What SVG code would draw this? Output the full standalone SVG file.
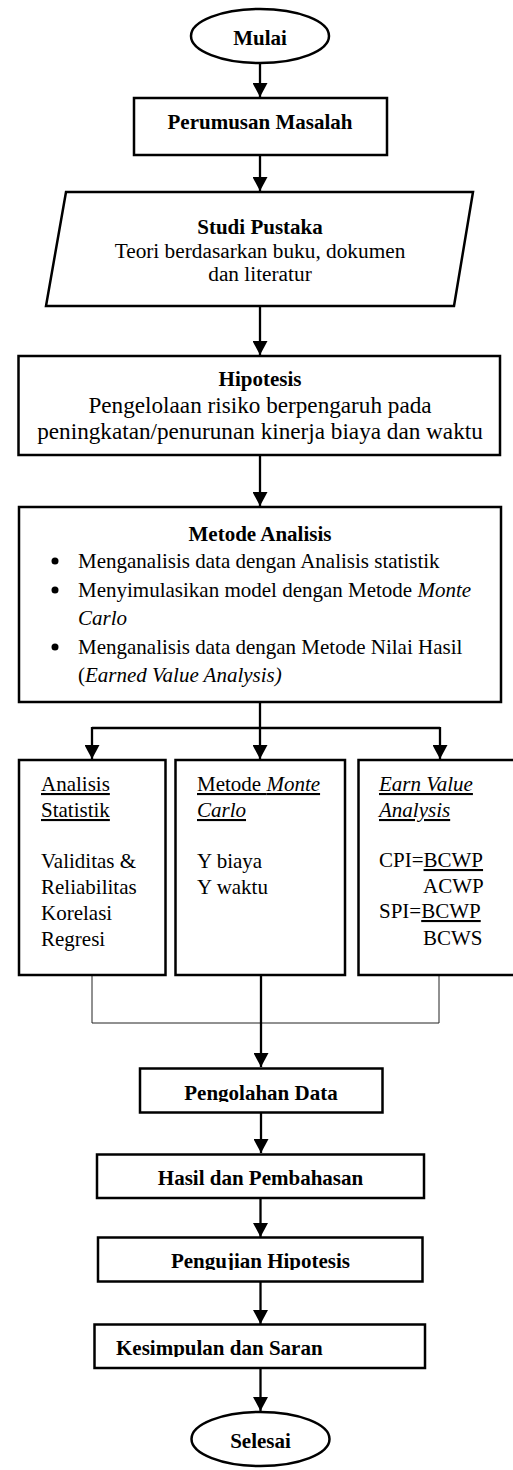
<svg xmlns="http://www.w3.org/2000/svg" width="513" height="1470" viewBox="0 0 513 1470">
<style>
text{font-family:"Liberation Serif","Times New Roman",serif;font-size:21px;fill:#000}
.b{font-weight:bold}
.c{text-anchor:middle}
.i{font-style:italic}
.u{text-decoration:underline}
.h{font-size:23.2px}
.shape{fill:#fff;stroke:#000;stroke-width:2.5}
.conn{fill:none;stroke:#000;stroke-width:2.3}
.thin{fill:none;stroke:#222;stroke-width:1}
</style>
<defs>
<marker id="ah" markerUnits="userSpaceOnUse" markerWidth="15" markerHeight="15" refX="14" refY="7.5" orient="auto">
<path d="M0,0 L14,7.5 L0,15 z" fill="#000"/>
</marker>
<clipPath id="cp1"><rect x="140" y="1068" width="243" height="34"/></clipPath>
<clipPath id="cp2"><rect x="97" y="1237" width="326" height="33"/></clipPath>
<clipPath id="cp3"><rect x="94" y="1324" width="331" height="33"/></clipPath>
</defs>
<g id="connectors">
<line class="conn" x1="260" y1="63" x2="260" y2="97" marker-end="url(#ah)"/>
<line class="conn" x1="260" y1="156" x2="260" y2="191" marker-end="url(#ah)"/>
<line class="conn" x1="260" y1="306" x2="260" y2="355" marker-end="url(#ah)"/>
<line class="conn" x1="260" y1="455" x2="260" y2="506" marker-end="url(#ah)"/>
<polyline class="conn" points="260,702 260,728"/>
<polyline class="conn" points="92,728 440,728"/>
<line class="conn" x1="92" y1="727" x2="92" y2="759" marker-end="url(#ah)"/>
<line class="conn" x1="260" y1="727" x2="260" y2="759" marker-end="url(#ah)"/>
<line class="conn" x1="440" y1="727" x2="440" y2="759" marker-end="url(#ah)"/>
<polyline class="thin" points="92,975 92,1023 439,1023 439,975"/>
<line class="conn" x1="261" y1="975" x2="261" y2="1067" marker-end="url(#ah)"/>
<line class="conn" x1="261" y1="1112" x2="261" y2="1153" marker-end="url(#ah)"/>
<line class="conn" x1="260.5" y1="1198" x2="260.5" y2="1237" marker-end="url(#ah)"/>
<line class="conn" x1="260.5" y1="1282" x2="260.5" y2="1324" marker-end="url(#ah)"/>
<line class="conn" x1="260.5" y1="1368" x2="260.5" y2="1411" marker-end="url(#ah)"/>
</g>
<g id="mulai">
<ellipse class="shape" cx="260" cy="36" rx="69" ry="27"/>
<text class="b c" x="260" y="45">Mulai</text>
</g>
<g id="perumusan">
<rect class="shape" x="134" y="98" width="253" height="57"/>
<text class="b c" x="260" y="129">Perumusan Masalah</text>
</g>
<g id="studi">
<polygon class="shape" points="66,192 473,192 454,306 46,306"/>
<text class="b c" x="260" y="234">Studi Pustaka</text>
<text class="c" x="260" y="258" style="font-size:21.3px">Teori berdasarkan buku, dokumen</text>
<text class="c" x="260" y="281" style="font-size:21.3px">dan literatur</text>
</g>
<g id="hipotesis">
<rect class="shape" x="18.5" y="356" width="481.5" height="99"/>
<text class="b c" x="260" y="386">Hipotesis</text>
<text class="c h" x="260" y="413">Pengelolaan risiko berpengaruh pada</text>
<text class="c h" x="260" y="439">peningkatan/penurunan kinerja biaya dan waktu</text>
</g>
<g id="metode">
<rect class="shape" x="19" y="507" width="482" height="195"/>
<text class="b c" x="260" y="541">Metode Analisis</text>
<circle cx="55" cy="561" r="3.5"/>
<text x="78" y="568">Menganalisis data dengan Analisis statistik</text>
<circle cx="55" cy="590" r="3.5"/>
<text x="78" y="597">Menyimulasikan model dengan Metode <tspan class="i">Monte</tspan></text>
<text class="i" x="78" y="625">Carlo</text>
<circle cx="55" cy="647" r="3.5"/>
<text x="78" y="654">Menganalisis data dengan Metode Nilai Hasil</text>
<text x="78" y="682">(<tspan class="i">Earned Value Analysis)</tspan></text>
</g>
<g id="analisis-statistik">
<rect class="shape" x="19" y="760" width="146.5" height="215"/>
<text class="u" x="41" y="791">Analisis</text>
<text class="u" x="41" y="817">Statistik</text>
<text x="41" y="868">Validitas &amp;</text>
<text x="41" y="894">Reliabilitas</text>
<text x="41" y="920">Korelasi</text>
<text x="41" y="946">Regresi</text>
</g>
<g id="monte-carlo">
<rect class="shape" x="175.5" y="760" width="169.5" height="215"/>
<text class="u" x="197" y="791">Metode <tspan class="i">Monte</tspan></text>
<text class="u i" x="197" y="817">Carlo</text>
<text x="197" y="868">Y biaya</text>
<text x="197" y="894">Y waktu</text>
</g>
<g id="earn-value">
<rect class="shape" x="358.5" y="760" width="160" height="215"/>
<text class="u i" x="379" y="791">Earn Value</text>
<text class="u i" x="379" y="817">Analysis</text>
<text x="379" y="867">CPI=<tspan class="u">BCWP</tspan></text>
<text x="423" y="893">ACWP</text>
<text x="379" y="918">SPI=<tspan class="u">BCWP</tspan></text>
<text x="423" y="945">BCWS</text>
</g>
<g id="pengolahan">
<rect class="shape" x="140" y="1068.5" width="242.5" height="44"/>
<text class="b c" x="261" y="1100" clip-path="url(#cp1)">Pengolahan Data</text>
</g>
<g id="hasil">
<rect class="shape" x="97" y="1154.5" width="327" height="43.5"/>
<text class="b c" x="260.5" y="1185">Hasil dan Pembahasan</text>
</g>
<g id="pengujian">
<rect class="shape" x="98" y="1237.5" width="324.5" height="44"/>
<text class="b c" x="260.5" y="1268" clip-path="url(#cp2)">Pengujian Hipotesis</text>
</g>
<g id="kesimpulan">
<rect class="shape" x="94.5" y="1324.5" width="330.5" height="43.5"/>
<text class="b" x="116" y="1355" clip-path="url(#cp3)">Kesimpulan dan Saran</text>
</g>
<g id="selesai">
<ellipse class="shape" cx="260.5" cy="1439" rx="69" ry="27"/>
<text class="b c" x="260.5" y="1448">Selesai</text>
</g>
</svg>
